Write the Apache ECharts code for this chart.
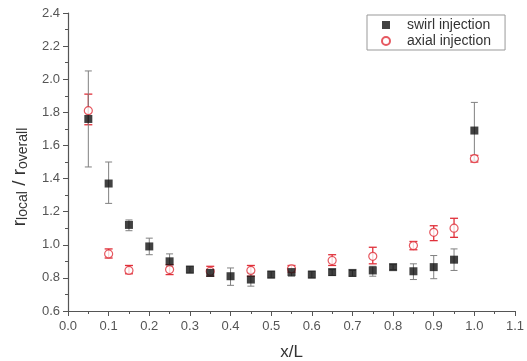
<!DOCTYPE html>
<html>
<head>
<meta charset="utf-8">
<script src="https://cdn.jsdelivr.net/npm/echarts@6/dist/echarts.min.js"></script>
<style>
  html, body { margin: 0; padding: 0; background: #fff; }
  #chart { width: 527px; height: 361px; }
</style>
</head>
<body>
<div id="chart"></div>
<script>
// swirl injection (black squares)
const swirlX = [0.05, 0.10, 0.15, 0.20, 0.25, 0.30, 0.35, 0.40, 0.45, 0.50,
                0.55, 0.60, 0.65, 0.70, 0.75, 0.80, 0.85, 0.90, 0.95, 1.00];
const swirlY = [1.76, 1.37, 1.12, 0.99, 0.90, 0.85, 0.83, 0.81, 0.79, 0.82,
                0.835, 0.82, 0.835, 0.83, 0.845, 0.865, 0.84, 0.865, 0.91, 1.69];
const swirlLo = [1.47, 1.25, 1.085, 0.94, 0.87, 0.83, 0.81, 0.755, 0.75, 0.80,
                 0.81, 0.80, 0.815, 0.81, 0.81, 0.85, 0.79, 0.795, 0.845, 1.51];
const swirlHi = [2.05, 1.50, 1.15, 1.04, 0.945, 0.87, 0.85, 0.86, 0.83, 0.84,
                 0.855, 0.84, 0.85, 0.845, 0.87, 0.88, 0.885, 0.935, 0.975, 1.86];

// axial injection (red open circles)
const axialX = [0.05, 0.10, 0.15, 0.25, 0.35, 0.45, 0.55, 0.65, 0.75, 0.85, 0.90, 0.95, 1.00];
const axialY = [1.81, 0.945, 0.845, 0.85, 0.84, 0.845, 0.855, 0.905, 0.93, 0.995, 1.075, 1.10, 1.52];
const axialLo = [1.725, 0.92, 0.825, 0.82, 0.81, 0.81, 0.835, 0.875, 0.885, 0.97, 1.025, 1.045, 1.50];
const axialHi = [1.91, 0.975, 0.875, 0.88, 0.87, 0.875, 0.875, 0.94, 0.985, 1.02, 1.115, 1.16, 1.54];

const FONT = 'Liberation Sans, Arial, sans-serif';

function zip(xs, ys) {
  return xs.map((x, i) => [x, ys[i]]);
}

function errorSeries(xs, lo, hi, color, capW, lineW) {
  return {
    type: 'custom',
    silent: true,
    z: 1,
    data: xs.map((x, i) => [x, lo[i], hi[i]]),
    renderItem: (params, api) => {
      const top = api.coord([api.value(0), api.value(2)]);
      const bot = api.coord([api.value(0), api.value(1)]);
      const st = { stroke: color, lineWidth: lineW };
      return {
        type: 'group',
        children: [
          { type: 'line', shape: { x1: top[0], y1: top[1], x2: bot[0], y2: bot[1] }, style: st },
          { type: 'line', shape: { x1: top[0] - capW, y1: top[1], x2: top[0] + capW, y2: top[1] }, style: st },
          { type: 'line', shape: { x1: bot[0] - capW, y1: bot[1], x2: bot[0] + capW, y2: bot[1] }, style: st }
        ]
      };
    }
  };
}

const chart = echarts.init(document.getElementById('chart'));

chart.setOption({
  backgroundColor: '#fff',
  animation: false,
  grid: { left: 68, right: 12, top: 13, bottom: 50, containLabel: false, outerBoundsMode: 'none' },
  legend: {
    left: 367,
    top: 15,
    orient: 'vertical',
    borderColor: '#999',
    borderWidth: 1,
    padding: [3, 14, 2, 14],
    itemGap: 2,
    itemWidth: 8,
    itemHeight: 8,
    textStyle: { fontFamily: FONT, fontSize: 14, color: '#333', padding: [0, 0, 0, 12] },
    data: ['swirl injection', 'axial injection']
  },
  xAxis: {
    type: 'value',
    min: 0,
    max: 1.1,
    interval: 0.1,
    name: 'x/L',
    nameLocation: 'middle',
    nameGap: 33,
    nameTextStyle: { fontFamily: FONT, fontSize: 17, color: '#333' },
    axisLine: { show: true, onZero: false, lineStyle: { color: '#555', width: 1.2 } },
    axisTick: { show: true, length: 5, lineStyle: { color: '#555' } },
    minorTick: { show: true, splitNumber: 2, length: 3, lineStyle: { color: '#555' } },
    splitLine: { show: false },
    axisLabel: {
      fontFamily: FONT, fontSize: 13, color: '#555', margin: 9,
      formatter: v => v.toFixed(1)
    }
  },
  yAxis: {
    type: 'value',
    min: 0.6,
    max: 2.4,
    interval: 0.2,
    name: '{r|r}{sub|local}{r| / r}{sub|overall}',
    nameLocation: 'middle',
    nameGap: 38,
    nameRotate: 90,
    nameTextStyle: {
      fontFamily: FONT,
      padding: [0, 30, 0, 0],
      rich: {
        r: { fontFamily: FONT, fontSize: 19, color: '#333' },
        sub: { fontFamily: FONT, fontSize: 14, color: '#333', verticalAlign: 'bottom', padding: [7, 0, 0, 0] }
      }
    },
    axisLine: { show: true, onZero: false, lineStyle: { color: '#555', width: 1.2 } },
    axisTick: { show: true, length: 5, lineStyle: { color: '#555' } },
    minorTick: { show: true, splitNumber: 2, length: 3, lineStyle: { color: '#555' } },
    splitLine: { show: false },
    axisLabel: {
      fontFamily: FONT, fontSize: 13, color: '#555', margin: 8,
      formatter: v => v.toFixed(1)
    }
  },
  series: [
    errorSeries(axialX, axialLo, axialHi, '#e0303a', 4, 1.3),
    {
      name: 'axial injection',
      type: 'scatter',
      z: 2,
      symbol: 'circle',
      symbolSize: 8,
      itemStyle: { color: '#fff', borderColor: '#e0303a', borderWidth: 1.2 },
      data: zip(axialX, axialY)
    },
    errorSeries(swirlX, swirlLo, swirlHi, '#808080', 3.5, 1),
    {
      name: 'swirl injection',
      type: 'scatter',
      z: 3,
      symbol: 'rect',
      symbolSize: 8,
      itemStyle: { color: '#111' },
      data: zip(swirlX, swirlY)
    }
  ]
});
</script>
</body>
</html>
